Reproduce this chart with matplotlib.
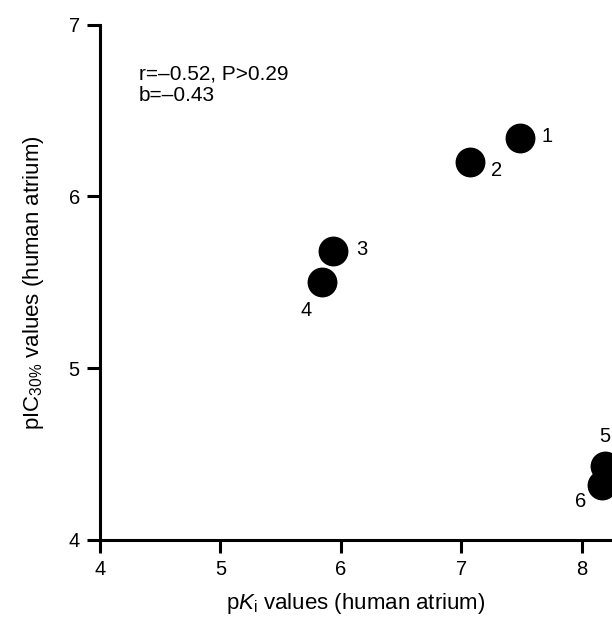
import matplotlib
matplotlib.use("Agg")
import matplotlib.pyplot as plt

plt.rcParams["font.family"] = "Liberation Sans"
plt.rcParams["mathtext.fontset"] = "custom"
plt.rcParams["mathtext.rm"] = "Liberation Sans"
plt.rcParams["mathtext.it"] = "Liberation Sans:italic"

# data
labels = ["1", "2", "3", "4", "5", "6"]
pki = [7.49, 7.07, 5.93, 5.84, 8.19, 8.17]
pic30 = [6.34, 6.20, 5.68, 5.50, 4.43, 4.32]
# label offsets in points (dx, dy)
offsets = [(19, 1), (19, -6), (21, 1), (-11, -20), (0, 21), (-16, -12)]

fig = plt.figure(figsize=(6.12, 6.19), dpi=100)
ax = fig.add_axes([0.1634, 0.128, 0.8366, 0.832])

ax.plot(pki, pic30, "o", color="black", markersize=20.5, clip_on=True, zorder=3)
for lab, x, y, (dx, dy) in zip(labels, pki, pic30, offsets):
    ax.annotate(lab, (x, y), xytext=(dx, dy), textcoords="offset points",
                ha="center", va="center", fontsize=14.5)

ax.set_xlim(4, 8.25)
ax.set_ylim(4, 7)
ax.set_xticks([4, 5, 6, 7, 8])
ax.set_yticks([4, 5, 6, 7])

for side in ["top", "right"]:
    ax.spines[side].set_visible(False)
for side in ["left", "bottom"]:
    ax.spines[side].set_linewidth(2.2)
ax.tick_params(width=2.2, length=9.5, labelsize=14.5, pad=5, direction="out")

ax.set_xlabel(r"p$K_{\mathrm{i}}$ values (human atrium)", fontsize=16, labelpad=9)
ax.set_ylabel(r"pIC$_{30\%}$ values (human atrium)", fontsize=16, labelpad=16)

ax.text(0.076, 0.8835, "r=\u20130.52, P>0.29\nb=\u20130.43", transform=ax.transAxes,
        fontsize=15, va="center", ha="left", linespacing=1.15)

fig.savefig("out.png", dpi=100)
